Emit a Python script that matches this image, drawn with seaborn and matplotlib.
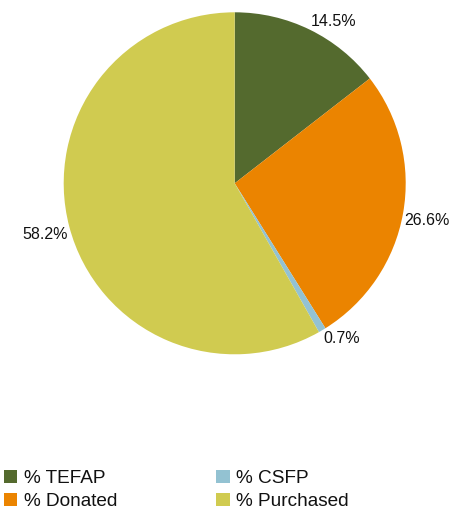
import matplotlib
matplotlib.use("Agg")
import numpy as np
import matplotlib.pyplot as plt
import seaborn as sns

categories = ["% TEFAP", "% Donated", "% CSFP", "% Purchased"]
shares = [14.5, 26.6, 0.7, 58.2]
colors = ["#546A2E", "#EB8400", "#93C2D2", "#D0CB50"]

sns.set_theme(style="white")
plt.rcParams["font.family"] = ["Liberation Sans", "DejaVu Sans"]

W, H = 450, 511
fig = plt.figure(figsize=(W / 100, H / 100), dpi=100)

# pie area: centre and radius in pixels
cx, cy, r = 234.7, 183.3, 171.0
ax = fig.add_axes([(cx - r) / W, 1 - (cy + r) / H, 2 * r / W, 2 * r / H])

wedges, _ = ax.pie(
    shares,
    colors=colors,
    startangle=90,
    counterclock=False,
    radius=1.0,
    wedgeprops=dict(linewidth=0),
)

# percentage labels just outside each wedge, anchored by their near corner
for w, val in zip(wedges, shares):
    mid = np.deg2rad((w.theta1 + w.theta2) / 2)
    c, s = np.cos(mid), np.sin(mid)
    ax.text(
        1.008 * c, 1.008 * s, f"{val:.1f}%",
        ha="left" if c > 0 else "right",
        va="bottom" if s > 0 else "top",
        fontsize=11.5, color="#111111",
    )

ax.set_xlim(-1, 1)
ax.set_ylim(-1, 1)
ax.set_aspect("equal")
ax.axis("off")

fig.legend(
    wedges,
    categories,
    loc="upper left",
    bbox_to_anchor=(4 / W, 1 - 470 / H),
    ncol=2,
    frameon=False,
    fontsize=13.7,
    labelcolor="#111111",
    handlelength=0.7,
    handleheight=0.7,
    handletextpad=0.35,
    columnspacing=5.2,
    labelspacing=0.3,
    borderpad=0,
    borderaxespad=0,
)

fig.savefig("out.png", dpi=100)
